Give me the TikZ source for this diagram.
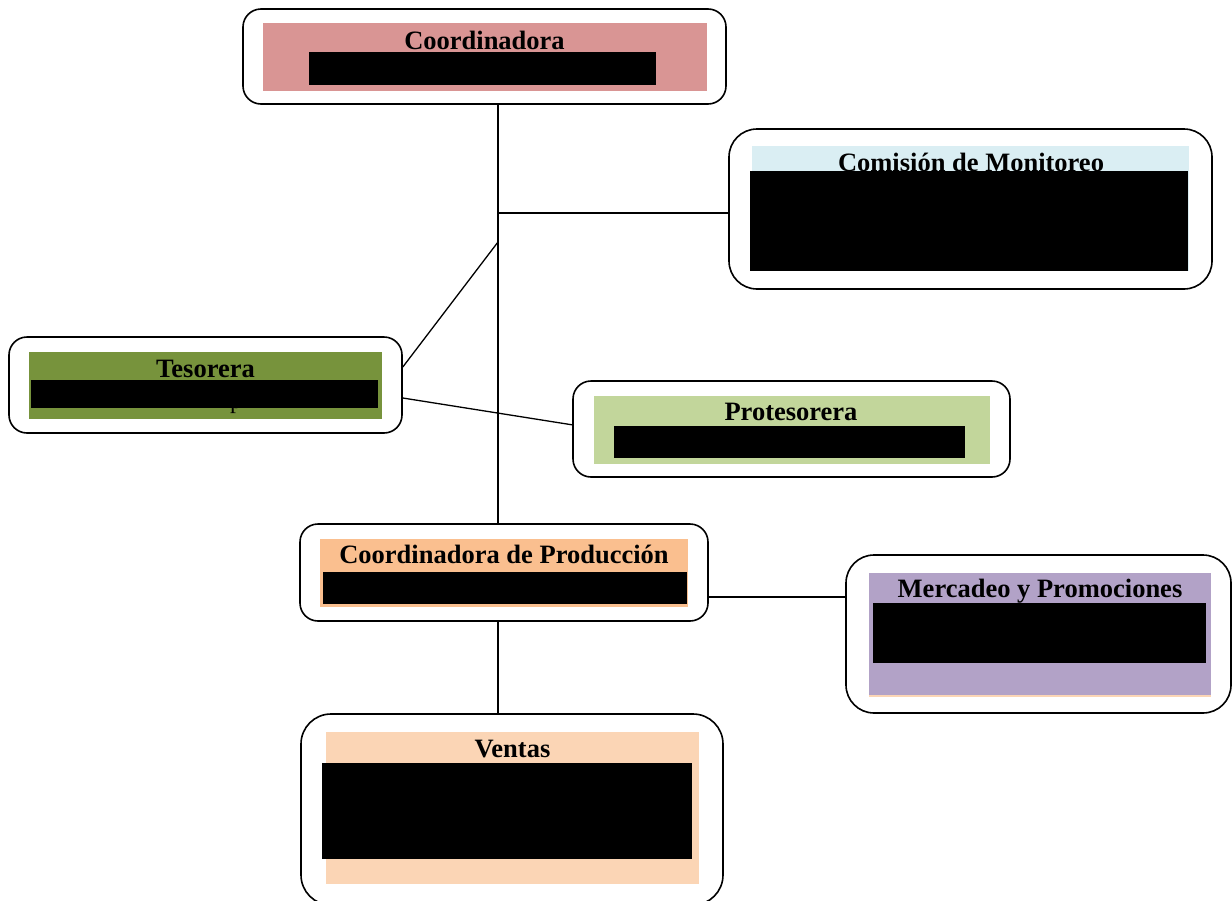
\documentclass[tikz,border=0pt]{standalone}
\usepackage{fontspec}
\setmainfont{Liberation Serif}
\usetikzlibrary{calc}
\definecolor{cCoord}{HTML}{D99594}
\definecolor{cCom}{HTML}{DAEEF3}
\definecolor{cTeso}{HTML}{77933C}
\definecolor{cProt}{HTML}{C2D69B}
\definecolor{cProd}{HTML}{FABF8F}
\definecolor{cMerc}{HTML}{B2A2C7}
\definecolor{cVent}{HTML}{FBD5B5}
\tikzset{
  outerbox/.style={draw=black, line width=1.6pt, fill=white, rounded corners=#1, inner sep=0pt},
  outerbox/.default=18pt,
  title/.style={anchor=base, inner sep=0pt, font=\fontsize{26.5}{30}\selectfont\bfseries},
  bodytext/.style={anchor=base, inner sep=0pt, font=\fontsize{24}{28}\selectfont},
  link/.style={draw=black, line width=1.3pt},
  redact/.style={fill=black}
}
\begin{document}
\begin{tikzpicture}[x=1pt,y=-1pt]
\useasboundingbox (0,0) rectangle (1232,900);
\clip (0,0) rectangle (1232,900);
% junction coordinates
\coordinate (j1) at (498,213);
\coordinate (j2) at (498,242);
\coordinate (j3) at (777,597);
% outer boxes
\node[outerbox, minimum width=483pt, minimum height=95pt] (coord) at (484.5,56.5) {};
\node[outerbox=28pt, minimum width=483pt, minimum height=160pt] (com) at (970.5,209) {};
\node[outerbox, minimum width=393pt, minimum height=96pt] (teso) at (205.5,385) {};
\node[outerbox, minimum width=437pt, minimum height=96pt] (prot) at (791.5,429) {};
\node[outerbox, minimum width=408pt, minimum height=97pt] (prod) at (504,572.5) {};
\node[outerbox=28pt, minimum width=385pt, minimum height=158pt] (merc) at (1038.5,634) {};
\node[outerbox=30pt, minimum width=422pt, minimum height=191pt] (vent) at (512,809.5) {};
% connectors
\draw[link] (j1 |- coord.south) -- (j1 |- prod.north);
\draw[link] (j1) -- (com.west |- j1);
\draw[link] (j2) -- ($(teso.east)+(0,-18)$);
\draw[link] ($(teso.east)+(0,13)$) -- ($(prot.west)+(1,-4)$);
\draw[link] (prod.east |- j3) -- (merc.west |- j3);
\draw[link] (j1 |- prod.south) -- (j1 |- vent.north);
% inner colour panels
\fill[cCoord] (263,23) rectangle (707,91);
\fill[cCom] (752,146) rectangle (1189,271);
\fill[cTeso] (29,352) rectangle (382,419);
\fill[cProt] (594,396) rectangle (990,464);
\fill[cProd] (320,539) rectangle (688,607);
\fill[cMerc] (869,573) rectangle (1211,696);
\fill[cVent] (869,695) rectangle (1211,697);
\fill[cVent] (326,732) rectangle (699,884);
% titles
\node[title] (tCoord) at (484.5,49) {Coordinadora};
\node[title] (tCom) at (971,171) {Comisión de Monitoreo};
\node[title] (tTeso) at (205.5,377) {Tesorera};
\node[bodytext] (tTesoP) at (236,408) {p};
\node[title] (tProt) at (791,420) {Protesorera};
\node[title] (tProd) at (504,563) {Coordinadora de Producción};
\node[title] (tMerc) at (1040,597) {Mercadeo y Promociones};
\node[title] (tVent) at (512.5,757) {Ventas};
% redaction bars
\fill[redact] (309,52) rectangle (656,85);
\fill[redact] (750,171) rectangle (1188,271);
\fill[redact] (31,380) rectangle (378,408);
\fill[redact] (614,426) rectangle (965,458);
\fill[redact] (323,572) rectangle (687,604);
\fill[redact] (873,603) rectangle (1206,663);
\fill[redact] (322,763) rectangle (692,859);
\end{tikzpicture}
\end{document}
